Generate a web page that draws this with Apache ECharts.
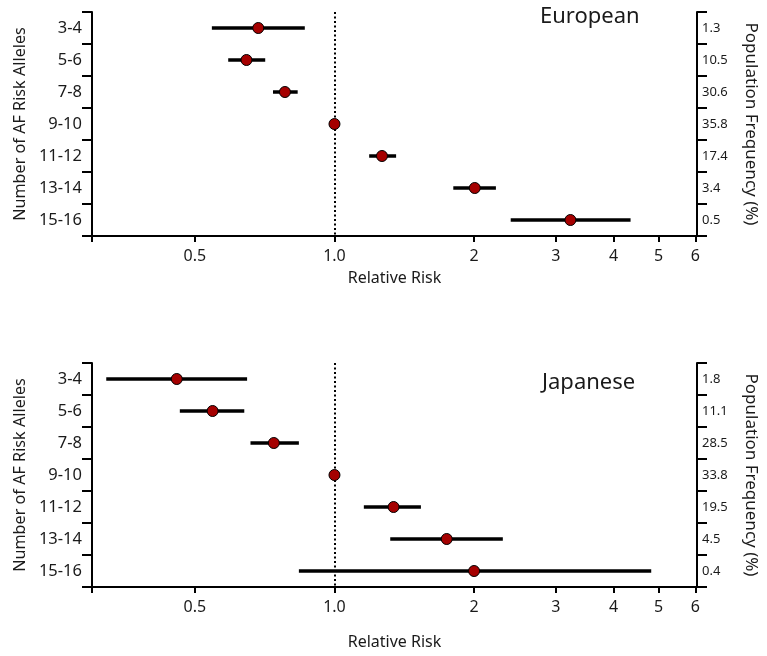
<!DOCTYPE html>
<html>
<head>
<meta charset="utf-8">
<script src="https://cdn.jsdelivr.net/npm/echarts@6/dist/echarts.min.js"></script>
<style>
  html, body { margin: 0; padding: 0; background: #fff; }
  #chart { width: 767px; height: 656px; }
</style>
</head>
<body>
<div id="chart"></div>
<script>
// allele groups, top to bottom
var groups = ['3-4', '5-6', '7-8', '9-10', '11-12', '13-14', '15-16'];

// European
var euRR = [0.685, 0.646, 0.782, 1.0, 1.266, 2.007, 3.227];
var euLo = [0.544, 0.590, 0.737, 1.0, 1.188, 1.804, 2.399];
var euHi = [0.863, 0.709, 0.833, 1.0, 1.358, 2.229, 4.35];
var euFreq = ['1.3', '10.5', '30.6', '35.8', '17.4', '3.4', '0.5'];

// Japanese
var jpRR = [0.457, 0.546, 0.740, 1.0, 1.341, 1.746, 2.0];
var jpLo = [0.322, 0.464, 0.659, 1.0, 1.157, 1.319, 0.838];
var jpHi = [0.648, 0.639, 0.838, 1.0, 1.536, 2.307, 4.82];
var jpFreq = ['1.8', '11.1', '28.5', '33.8', '19.5', '4.5', '0.4'];

// x ticks (relative risk, log scale)
var tickVals = [0.5, 1, 2, 3, 4, 5, 6];
var tickLabels = ['0.5', '1.0', '2', '3', '4', '5', '6'];
var xMin = 0.3, xMax = 6.05;

var FONT = '"Noto Sans", "Open Sans", sans-serif';
var TXT = '#1a1a1a';
var chart = echarts.init(document.getElementById('chart'));

function lg(v) { return Math.log2(v); }

function tickLabel(v) {
  for (var i = 0; i < tickVals.length; i++) {
    if (Math.abs(lg(tickVals[i]) - v) < 1e-6) return tickLabels[i];
  }
  return '';
}

// horizontal CI bar
function renderBar(params, api) {
  var y = api.value(2);
  var p0 = api.coord([api.value(0), y]);
  var p1 = api.coord([api.value(1), y]);
  return {
    type: 'line',
    shape: { x1: p0[0], y1: p0[1], x2: p1[0], y2: p1[1] },
    style: { stroke: '#000', lineWidth: 3.5 }
  };
}

var grids = [
  { left: 92, top: 12, width: 610, height: 224 },
  { left: 92, top: 363, width: 610, height: 224 }
];
var nameGaps = [34, 47];
var sets = [
  { rr: euRR, lo: euLo, hi: euHi, freq: euFreq },
  { rr: jpRR, lo: jpLo, hi: jpHi, freq: jpFreq }
];

var xAxes = [], yAxes = [], series = [];
sets.forEach(function (s, i) {
  xAxes.push({
    type: 'value', gridIndex: i,
    min: lg(xMin), max: lg(xMax),
    axisLine: { show: true, onZero: false, lineStyle: { color: '#000', width: 2 } },
    axisTick: { show: true, length: 6, lineStyle: { color: '#000', width: 2 },
      customValues: [lg(xMin)].concat(tickVals.map(lg)) },
    axisLabel: { customValues: tickVals.map(lg), formatter: tickLabel,
      margin: 12, fontSize: 16, color: TXT, fontFamily: FONT },
    splitLine: { show: false },
    name: 'Relative Risk', nameLocation: 'middle', nameGap: nameGaps[i],
    nameTextStyle: { fontSize: 16, color: TXT, fontFamily: FONT }
  });
  yAxes.push({
    type: 'category', gridIndex: i, data: groups, inverse: true, position: 'left',
    axisLine: { show: true, onZero: false, lineStyle: { color: '#000', width: 2 } },
    axisTick: { show: true, length: 10, lineStyle: { color: '#000', width: 2 } },
    axisLabel: { margin: 10, fontSize: 16.5, color: TXT, fontFamily: FONT },
    name: 'Number of AF Risk Alleles', nameLocation: 'middle', nameRotate: 90, nameGap: 64,
    nameTextStyle: { fontSize: 16.2, color: TXT, fontFamily: FONT }
  });
  yAxes.push({
    type: 'category', gridIndex: i, data: s.freq, inverse: true, position: 'right',
    axisLine: { show: true, onZero: false, lineStyle: { color: '#000', width: 2 } },
    axisTick: { show: true, length: 10, lineStyle: { color: '#000', width: 2 } },
    axisLabel: { margin: 5, fontSize: 13, color: TXT, fontFamily: FONT },
    name: 'Population Frequency (%)', nameLocation: 'middle', nameRotate: -90, nameGap: 45,
    nameTextStyle: { fontSize: 17, color: TXT, fontFamily: FONT }
  });

  series.push({
    type: 'custom', xAxisIndex: i, yAxisIndex: i * 2,
    renderItem: renderBar,
    encode: { x: [0, 1], y: 2 },
    data: groups.map(function (g, k) { return [lg(s.lo[k]), lg(s.hi[k]), k]; }),
    z: 2
  });
  series.push({
    type: 'scatter', xAxisIndex: i, yAxisIndex: i * 2,
    symbolSize: 11,
    itemStyle: { color: '#a50000', borderColor: '#000', borderWidth: 1, opacity: 1 },
    data: groups.map(function (g, k) { return [lg(s.rr[k]), g]; }),
    markLine: {
      silent: true, symbol: 'none', label: { show: false }, z: 1,
      lineStyle: { color: '#000', type: [2, 2.5], width: 2 },
      data: [{ xAxis: lg(1) }]
    },
    z: 3
  });
});

chart.setOption({
  animation: false,
  backgroundColor: '#fff',
  textStyle: { fontFamily: FONT },
  grid: grids,
  xAxis: xAxes,
  yAxis: yAxes,
  series: series,
  graphic: [
    { type: 'text', left: 540, top: 6, style: { text: 'European', font: '22px ' + FONT, fill: TXT } },
    { type: 'text', left: 542, top: 372, style: { text: 'Japanese', font: '22px ' + FONT, fill: TXT } }
  ]
});
</script>
</body>
</html>
